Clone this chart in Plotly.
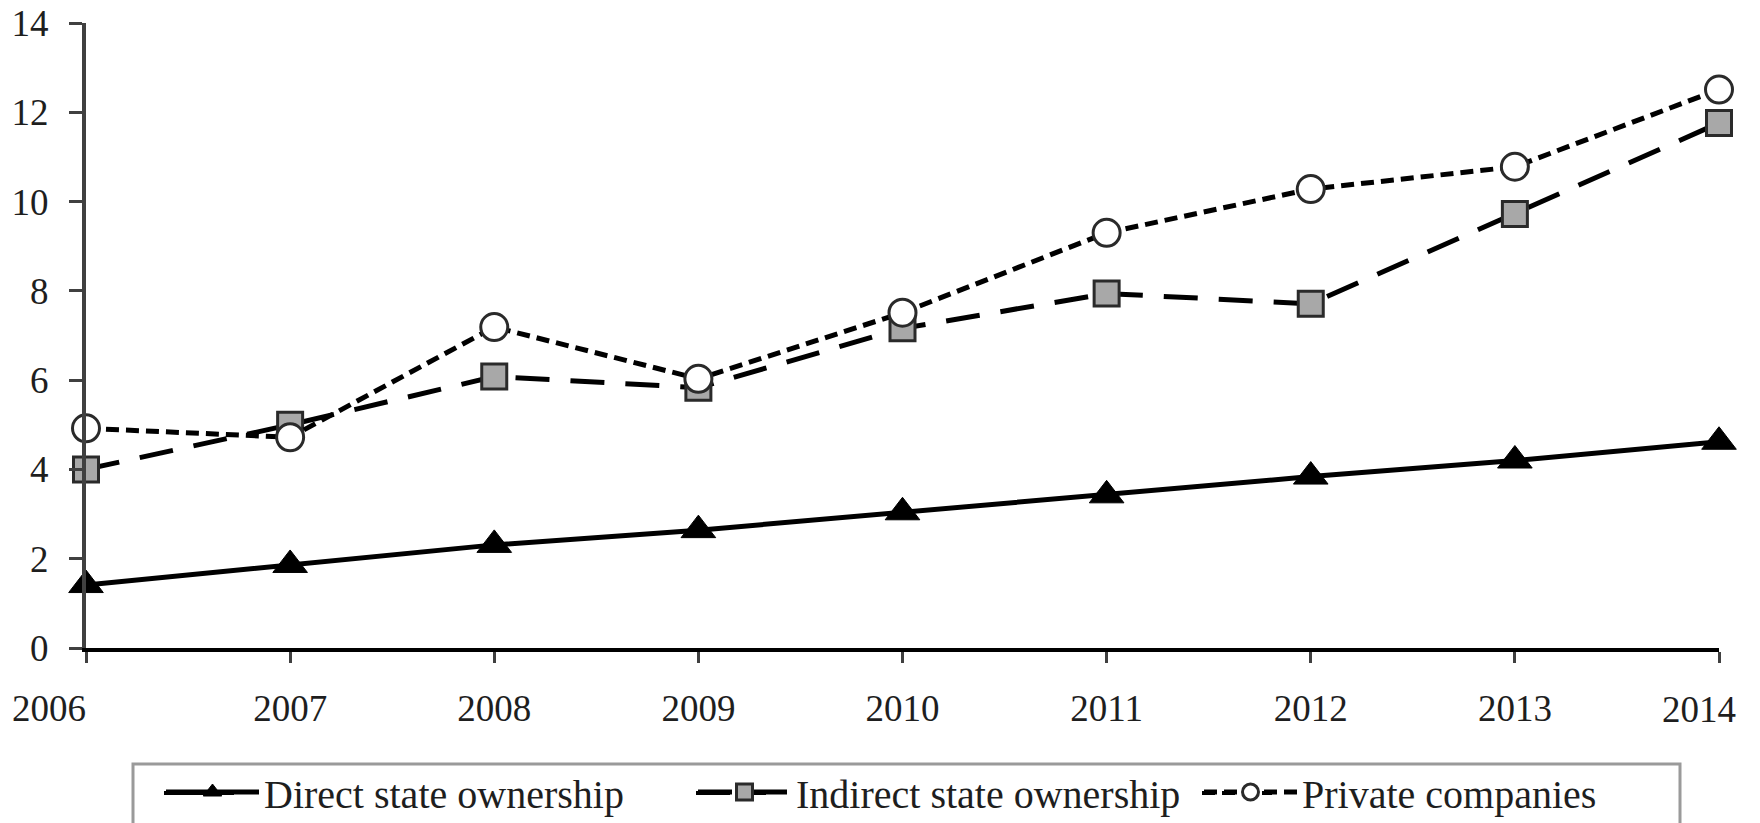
import plotly.graph_objects as go

years = [2006, 2007, 2008, 2009, 2010, 2011, 2012, 2013, 2014]
year_labels = ["2006", "2007", "2008", "2009", "2010", "2011", "2012", "2013", "2014"]
direct = [1.41, 1.86, 2.31, 2.64, 3.04, 3.42, 3.84, 4.2, 4.62]
indirect = [4.0, 5.0, 6.08, 5.83, 7.16, 7.94, 7.71, 9.72, 11.76]
private = [4.92, 4.72, 7.19, 6.03, 7.51, 9.3, 10.28, 10.78, 12.51]
names = ["Direct state ownership", "Indirect state ownership", "Private companies"]

FONT = "Liberation Serif"
TXT = "#1e1e1e"
W, H = 1760, 823
L, R, T, B = 86, 41, 23, 175

DASH_IND = "34px,21px"
DASH_PRI = "13px,7px"

fig = go.Figure()
fig.add_trace(go.Scatter(
    x=years, y=direct, name=names[0], mode="lines+markers", legend="legend",
    line=dict(color="black", width=5),
    marker=dict(symbol="triangle-up", size=30, color="black",
                line=dict(color="black", width=1)),
    cliponaxis=False))
fig.add_trace(go.Scatter(
    x=years, y=indirect, name=names[1], mode="lines+markers", legend="legend2",
    line=dict(color="black", width=5, dash=DASH_IND),
    marker=dict(symbol="square", size=25, color="#a8a8a8",
                line=dict(color="#2a2a2a", width=3)),
    cliponaxis=False))
fig.add_trace(go.Scatter(
    x=years, y=private, name=names[2], mode="lines+markers", legend="legend3",
    line=dict(color="black", width=5, dash=DASH_PRI),
    marker=dict(symbol="circle", size=27, color="white",
                line=dict(color="#2a2a2a", width=3)),
    cliponaxis=False))

LEG_Y = 792
ITEMW = 93

def leg(text_left_px):
    return dict(
        xref="container", yref="container",
        x=(text_left_px - ITEMW - 20) / W, xanchor="left",
        y=1 - LEG_Y / H, yanchor="middle",
        orientation="h", borderwidth=0, bgcolor="rgba(0,0,0,0)",
        itemwidth=ITEMW,
        font=dict(family=FONT, size=40, color=TXT),
    )

pw = W - L - R
ph = H - T - B
def px_x(v):
    return (v - L) / pw
def px_y(v):
    return (H - B - v) / ph

text_starts = [274, 806, 1312]
dashes = ["solid", DASH_IND, DASH_PRI]

shapes = [dict(
    type="rect", xref="paper", yref="paper",
    x0=px_x(133), x1=px_x(1680), y0=px_y(764), y1=px_y(835),
    line=dict(color="#9a9a9a", width=3), fillcolor="rgba(0,0,0,0)",
    layer="below",
)]
for ts, d in zip(text_starts, dashes):
    shapes.append(dict(
        type="line", xref="paper", yref="paper",
        x0=px_x(ts - 110), x1=px_x(ts - 40),
        y0=px_y(LEG_Y + 1), y1=px_y(LEG_Y + 1),
        line=dict(color="black", width=4, dash=d),
        layer="below",
    ))

# end labels sit inward of their ticks in the reference
NB = "\u00a0"
tick_text = list(year_labels)
tick_text[0] = year_labels[0] + NB * 8
tick_text[-1] = ""

annotations = [dict(
    text=year_labels[-1], x=years[-1], xref="x",
    y=px_y(709), yref="paper", yanchor="middle", xanchor="center",
    xshift=-20, showarrow=False,
    font=dict(family=FONT, size=37, color=TXT),
)]

fig.update_layout(
    width=W, height=H,
    paper_bgcolor="white", plot_bgcolor="white",
    margin=dict(l=L, r=R, t=T, b=B, autoexpand=False),
    font=dict(family=FONT, size=37, color=TXT),
    showlegend=True,
    legend=leg(text_starts[0]),
    legend2=leg(text_starts[1]),
    legend3=leg(text_starts[2]),
    shapes=shapes,
    annotations=annotations,
)
fig.update_xaxes(
    range=[2006, 2014], tickmode="array", tickvals=years,
    ticktext=tick_text,
    showgrid=False, zeroline=False,
    showline=True, linecolor="black", linewidth=4,
    ticks="outside", ticklen=11, tickwidth=3, tickcolor="#404040",
    ticklabelstandoff=14, ticklabeloverflow="allow",
    tickfont=dict(family=FONT, size=37, color=TXT),
)
fig.update_yaxes(
    range=[0, 14], tickmode="linear", tick0=0, dtick=2,
    showgrid=False, zeroline=False,
    showline=True, linecolor="#404040", linewidth=4,
    ticks="outside", ticklen=13, tickwidth=3, tickcolor="#404040",
    ticklabelstandoff=13, ticklabeloverflow="allow",
    tickfont=dict(family=FONT, size=37, color=TXT),
)

fig.write_html(
    "out.html",
    config={"displayModeBar": False},
    post_script="document.body.style.margin='0px';document.body.style.overflow='hidden';",
)
